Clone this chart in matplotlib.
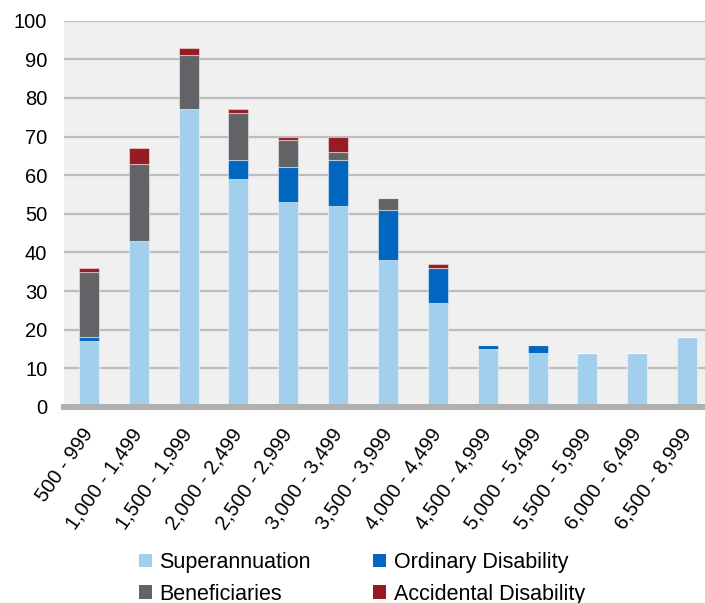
import matplotlib
matplotlib.use("Agg")
import matplotlib.pyplot as plt
from matplotlib.patches import Patch
import numpy as np

plt.rcParams['font.family'] = ['Liberation Sans', 'DejaVu Sans']

categories = ["500 - 999", "1,000 - 1,499", "1,500 - 1,999", "2,000 - 2,499",
              "2,500 - 2,999", "3,000 - 3,499", "3,500 - 3,999", "4,000 - 4,499",
              "4,500 - 4,999", "5,000 - 5,499", "5,500 - 5,999", "6,000 - 6,499",
              "6,500 - 8,999"]
superannuation = [17, 43, 77, 59, 53, 52, 38, 27, 15, 14, 14, 14, 18]
ordinary_disability = [1, 0, 0, 5, 9, 12, 13, 9, 1, 2, 0, 0, 0]
beneficiaries = [17, 20, 14, 12, 7, 2, 3, 0, 0, 0, 0, 0, 0]
accidental_disability = [1, 4, 2, 1, 1, 4, 0, 1, 0, 0, 0, 0, 0]

series = [
    ("Superannuation", superannuation, "#A2CFEC"),
    ("Ordinary Disability", ordinary_disability, "#0066BF"),
    ("Beneficiaries", beneficiaries, "#626366"),
    ("Accidental Disability", accidental_disability, "#961B22"),
]

W, H = 705, 603
fig = plt.figure(figsize=(W / 100, H / 100), dpi=100)
fig.patch.set_facecolor("white")
ax = fig.add_axes([64 / W, 1 - 407 / H, 648 / W, (407 - 20.6) / H])
ax.set_facecolor("#F0F0F0")

x = np.arange(len(categories))
bottom = np.zeros(len(categories))
for name, vals, col in series:
    vals = np.array(vals, dtype=float)
    ax.bar(x, vals, width=0.4, bottom=bottom, color=col,
           edgecolor=(1, 1, 1, 0.45), linewidth=0.8, zorder=3)
    bottom += vals

ax.set_xlim(-0.5, len(categories) - 0.5)
ax.set_ylim(0, 100)
ax.set_yticks(np.arange(0, 101, 10))
ax.yaxis.grid(True, color="#BDBDBD", linewidth=1.6, zorder=1)
ax.set_axisbelow(True)

for s in ["left", "right", "top"]:
    ax.spines[s].set_visible(False)
ax.spines["bottom"].set_color("#B0B0B0")
ax.spines["bottom"].set_linewidth(4.3)
ax.spines["bottom"].set_zorder(4)

ax.tick_params(axis="both", length=0, labelsize=14.5, colors="black")
ax.tick_params(axis="y", pad=12)
ax.set_xticks(x)
ax.set_xticklabels(categories, rotation=55, ha="right", va="center",
                   rotation_mode="anchor")
ax.tick_params(axis="x", pad=17)

handles = [Patch(facecolor=col, edgecolor="none", label=name) for name, _, col in series]
order = [0, 2, 1, 3]
fig.legend([handles[i] for i in order], [series[i][0] for i in order],
           ncol=2, loc="upper left", bbox_to_anchor=(139 / W, 1 - 552 / H),
           frameon=False, fontsize=15.5, handlelength=0.6, handleheight=0.6,
           handletextpad=0.35, columnspacing=2.9, labelspacing=0.5,
           borderaxespad=0, borderpad=0)

fig.savefig("out.png", dpi=100, facecolor="white")
